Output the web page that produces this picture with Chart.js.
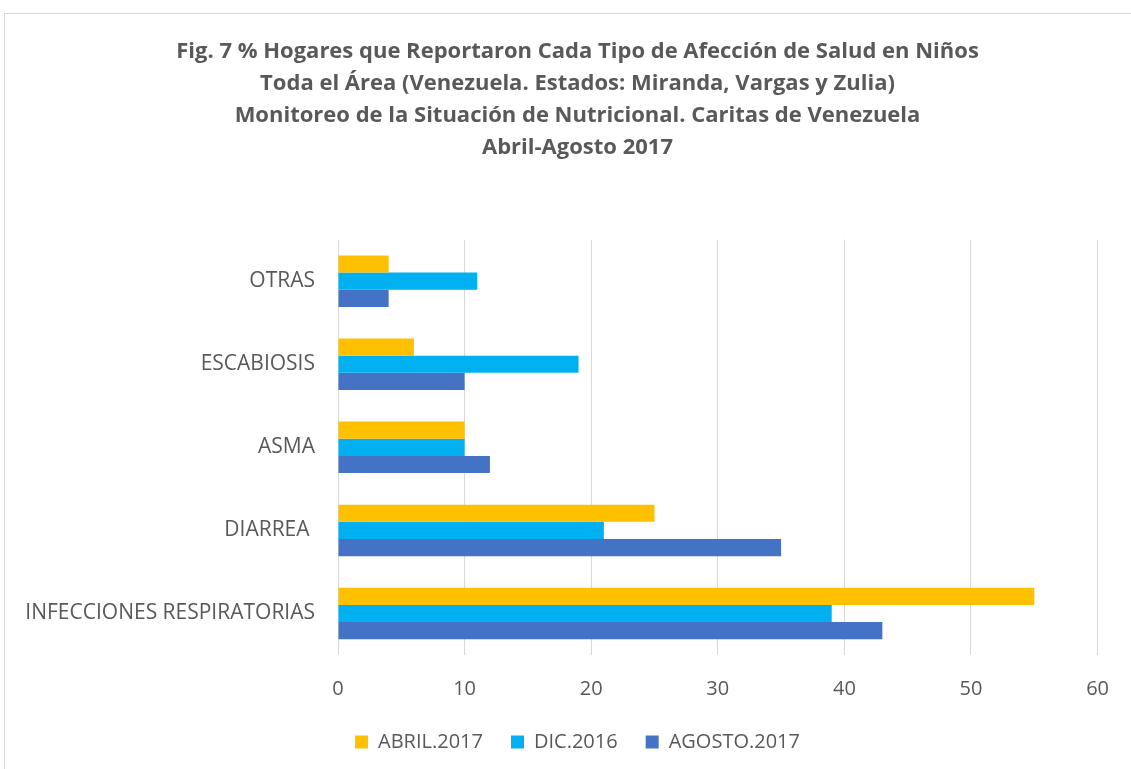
<!DOCTYPE html>
<html>
<head>
<meta charset="utf-8">
<script src="https://cdn.jsdelivr.net/npm/chart.js@4"></script>
<style>
  body { margin: 0; background: #fff; overflow: hidden; }
  #frame { position: absolute; left: 4px; top: 13px; width: 1140px; height: 770px; border: 1px solid #d9d9d9; }
  #expenseChart { position: absolute; left: 0; top: 0; }
</style>
</head>
<body>
<div id="frame"></div>
<canvas id="expenseChart" width="1131" height="769"></canvas>
<script>
const categories = ["OTRAS", "ESCABIOSIS", "ASMA", "DIARREA ", "INFECCIONES RESPIRATORIAS"];
const abril2017 = [4, 6, 10, 25, 55];
const dic2016 = [11, 19, 10, 21, 39];
const agosto2017 = [4, 10, 12, 35, 43];
const xTicks = [0, 10, 20, 30, 40, 50, 60];

const titleLines = [
    "Fig. 7 % Hogares que Reportaron Cada Tipo de Afección de Salud en Niños",
    "Toda el Área (Venezuela. Estados: Miranda, Vargas y Zulia)",
    "Monitoreo de la Situación de Nutricional. Caritas de Venezuela",
    "Abril-Agosto 2017"
];

const gray = '#595959';
const fontFamily = '"Open Sans", sans-serif';

const context = document.getElementById("expenseChart").getContext("2d");

// the frame is wider than the page, so title and legend sit a bit right of the canvas middle
const shiftCentered =
{
    id: 'shiftCentered',
    afterLayout: function(chart)
    {
        [chart.titleBlock, chart.legend].forEach(function(box)
        {
            box.left += 14;
            box.right += 14;
        });
    }
};

const data =
{
    labels: categories,
    datasets:
    [
        { label: 'ABRIL.2017', data: abril2017, backgroundColor: '#FFC000' },
        { label: 'DIC.2016', data: dic2016, backgroundColor: '#00B0F0' },
        { label: 'AGOSTO.2017', data: agosto2017, backgroundColor: '#4472C4' }
    ]
};

const config =
{
    type: 'bar',
    data: data,
    plugins: [shiftCentered],
    options:
    {
        responsive: false,
        animation: false,
        indexAxis: 'y',
        barPercentage: 1,
        categoryPercentage: 0.62,
        layout: { padding: { left: 20, right: 24, top: 20, bottom: 7 } },
        plugins:
        {
            title:
            {
                display: true,
                text: titleLines,
                color: gray,
                font: { family: fontFamily, size: 22, weight: 'bold', lineHeight: 1.45 },
                padding: { top: 16, bottom: 76 }
            },
            legend:
            {
                position: 'bottom',
                labels:
                {
                    color: gray,
                    font: { family: fontFamily, size: 20 },
                    boxWidth: 13,
                    boxHeight: 13,
                    padding: 28
                }
            },
            tooltip: { enabled: false }
        },
        scales:
        {
            x:
            {
                min: 0,
                max: 60,
                afterBuildTicks: function(scale) { scale.ticks = xTicks.map(v => ({ value: v })); },
                grid: { color: '#d9d9d9', drawTicks: false },
                border: { display: false },
                ticks: { color: gray, font: { family: fontFamily, size: 20 }, padding: 22 },
                afterFit: function(scale) { scale.height = 49; }
            },
            y:
            {
                grid: { display: false },
                border: { display: false },
                ticks: { color: gray, font: { family: fontFamily, size: 21 }, padding: 15 },
                afterFit: function(scale) { scale.width = 318; }
            }
        }
    }
};

const expenseChart = new Chart(context, config);
</script>
</body>
</html>
